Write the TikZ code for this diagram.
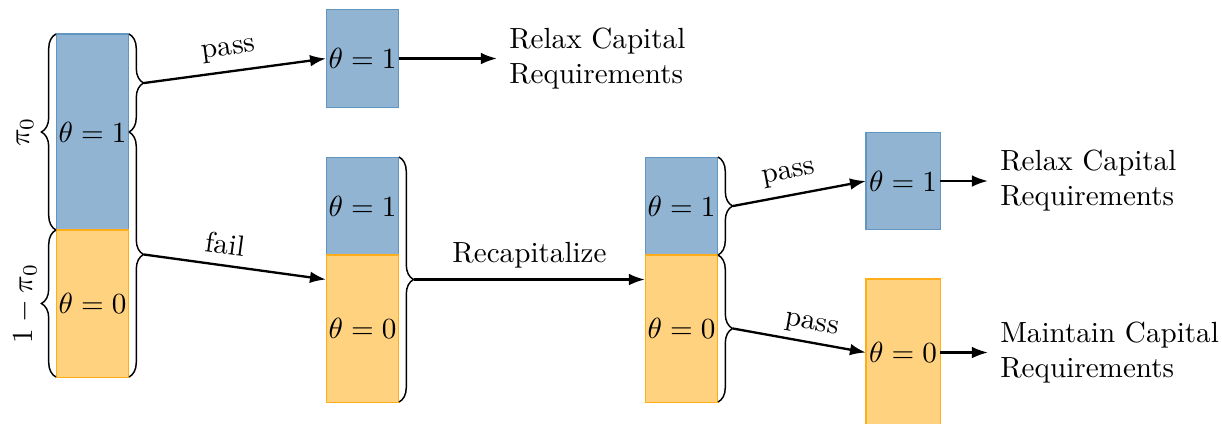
\documentclass[tikz,border=0pt]{standalone}
\usetikzlibrary{arrows.meta,decorations.pathreplacing}
\definecolor{steelblue}{RGB}{70,130,180}
\definecolor{orangeH}{RGB}{255,165,0}
\begin{document}
\begin{tikzpicture}[x=0.3431pt,y=-0.3431pt,
  bluebox/.style={draw=steelblue!85,fill=steelblue!60,line width=0.35pt,minimum width=25pt,inner sep=0pt,outer sep=0pt},
  orangebox/.style={draw=orangeH!90,fill=orangeH!50,line width=0.35pt,minimum width=25pt,inner sep=0pt,outer sep=0pt},
  bracel/.style={decorate,decoration={brace,amplitude=5pt},line width=0.5pt},
  arr/.style={-{Latex[length=5.5pt,width=4pt]},line width=0.8pt},
  outtext/.style={anchor=west,align=left,inner xsep=4pt,inner ysep=0pt},
  lab/.style={sloped,above}]
\useasboundingbox (0,0) rectangle (1222,423);
% boxes
\node[bluebox,minimum height=67.25pt] (b1b) at (92.5,132) {$\theta=1$};
\node[orangebox,minimum height=50.44pt] (b1o) at (92.5,303.5) {$\theta=0$};
\node[bluebox,minimum height=33.3pt] (b2) at (362.5,58.5) {$\theta=1$};
\node[bluebox,minimum height=33.6pt] (b3b) at (362.5,206) {$\theta=1$};
\node[orangebox,minimum height=50.44pt] (b3o) at (362.5,328.5) {$\theta=0$};
\node[bluebox,minimum height=33.6pt] (b4b) at (681.5,206) {$\theta=1$};
\node[orangebox,minimum height=50.44pt] (b4o) at (681.5,328.5) {$\theta=0$};
\node[bluebox,minimum height=33.6pt,minimum width=25.4pt] (b5) at (903,181) {$\theta=1$};
\node[orangebox,minimum height=50.44pt,minimum width=25.4pt] (b6) at (903,352.5) {$\theta=0$};
% braces
\draw[bracel] (56,230) -- (56,34);
\draw[bracel] (56,377) -- (56,230);
\node[rotate=90] (lpi) at (25,132) {$\pi_0$};
\node[rotate=90] (lmpi) at (25,303.5) {$1-\pi_0$};
\draw[bracel] (129,34) -- (129,132);
\draw[bracel] (129,132) -- (129,377);
\draw[bracel] (399,157) -- (399,402);
\draw[bracel] (718,157) -- (718,255);
\draw[bracel] (718,255) -- (718,402);
% brace tips and targets
\coordinate (t1) at (144,83);
\coordinate (t2) at (144,254.5);
\coordinate (t3) at (414,279.5);
\coordinate (t4) at (733,206);
\coordinate (t5) at (733,328.5);
\coordinate (c3) at (326,279.5);
\coordinate (c4) at (645,279.5);
% outcome texts
\node[outtext] (r1) at (497,58.5) {Relax Capital\\Requirements};
\node[outtext] (r2) at (988,181) {Relax Capital\\Requirements};
\node[outtext] (r3) at (988,352.5) {Maintain Capital\\Requirements};
% arrows
\draw[arr] (t1) -- node[lab,pos=0.48] (lp1) {pass} (b2.west);
\draw[arr] (t2) -- node[lab,pos=0.43] (lf) {fail} (c3);
\draw[arr] (t3) -- node[above] (lr) {Recapitalize} (c4);
\draw[arr] (t4) -- node[lab,pos=0.45] (lp2) {pass} (b5.west);
\draw[arr] (t5) -- node[lab,pos=0.57,inner sep=2pt] (lp3) {pass} (b6.west);
\draw[arr] (b2.east) -- (r1.west);
\draw[arr] (b5.east) -- (r2.west);
\draw[arr] (b6.east) -- (r3.west);
\end{tikzpicture}
\end{document}
